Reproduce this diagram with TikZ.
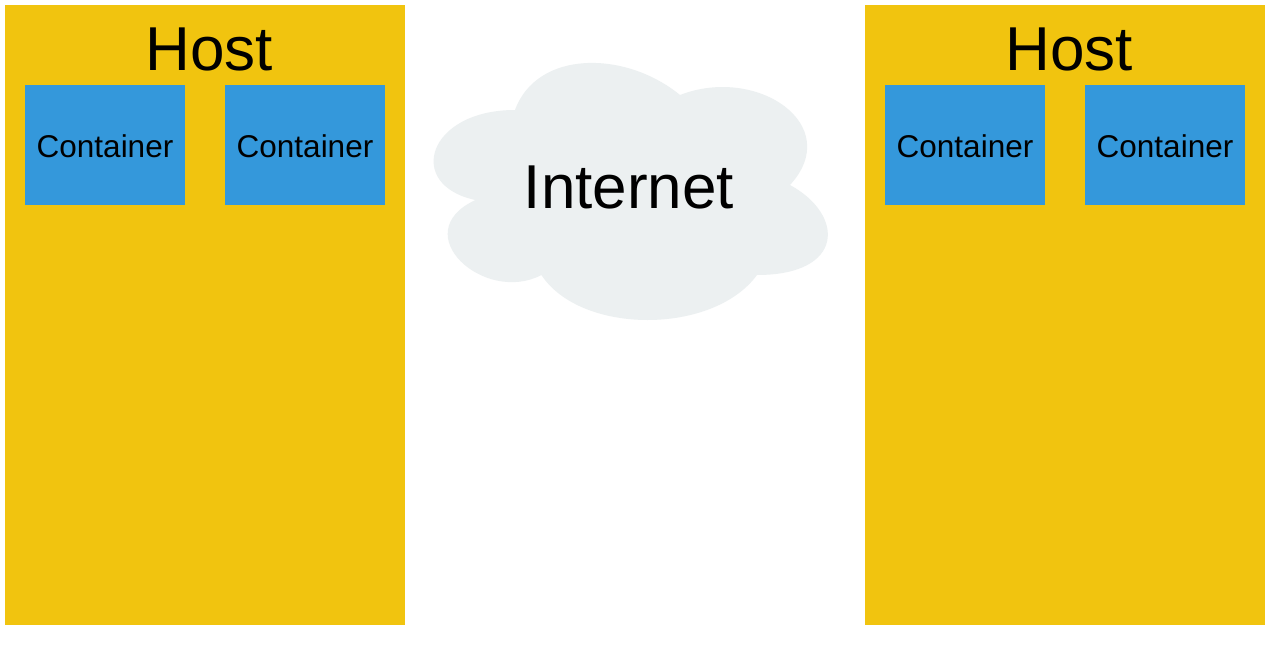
\documentclass[tikz,border=0pt]{standalone}
\usepackage{fontspec}
\setmainfont{Liberation Sans}
\definecolor{hostyellow}{HTML}{F1C40F}
\definecolor{contblue}{HTML}{3498DB}
\definecolor{cloudgrey}{HTML}{ECF0F1}
\tikzset{
  hostbox/.style={fill=hostyellow, draw=none, inner sep=0pt, minimum width=400pt, minimum height=620pt, anchor=north west},
  contbox/.style={fill=contblue, draw=none, inner sep=0pt, minimum width=160pt, minimum height=120pt, anchor=north west},
  bigtext/.style={font=\fontsize{62}{62}\selectfont, inner sep=0pt, anchor=base},
  conttext/.style={font=\fontsize{31.5}{31.5}\selectfont, inner sep=0pt, anchor=base},
}
\begin{document}
\begin{tikzpicture}[x=1pt, y=-1pt]
\useasboundingbox (0,0) rectangle (1270,648);
\fill[white] (0,0) rectangle (1270,648);
% Hosts
\node[hostbox] (hostL) at (5,5) {};
\node[hostbox] (hostR) at (865,5) {};
\node[bigtext] (hostLlabel) at (209,70) {Host};
\node[bigtext] (hostRlabel) at (1069,70) {Host};
% Containers
\node[contbox] (c1) at (25,85) {};
\node[contbox] (c2) at (225,85) {};
\node[contbox] (c3) at (885,85) {};
\node[contbox] (c4) at (1085,85) {};
\node[conttext] (c1t) at (105,157) {Container};
\node[conttext] (c2t) at (305,157) {Container};
\node[conttext] (c3t) at (965,157) {Container};
\node[conttext] (c4t) at (1165,157) {Container};
% Cloud
\fill[cloudgrey] (515,110)
  .. controls (427,110) and (405,185) .. (475.4,200)
  .. controls (405,233) and (484.2,305) .. (541.4,275)
  .. controls (581,335) and (713,335) .. (757,275)
  .. controls (845,275) and (845,215) .. (790,185)
  .. controls (845,125) and (757,65) .. (680,95)
  .. controls (625,50) and (537,50) .. (515,110) -- cycle;
\node[bigtext] (internet) at (629,208) {Internet};
\end{tikzpicture}
\end{document}
